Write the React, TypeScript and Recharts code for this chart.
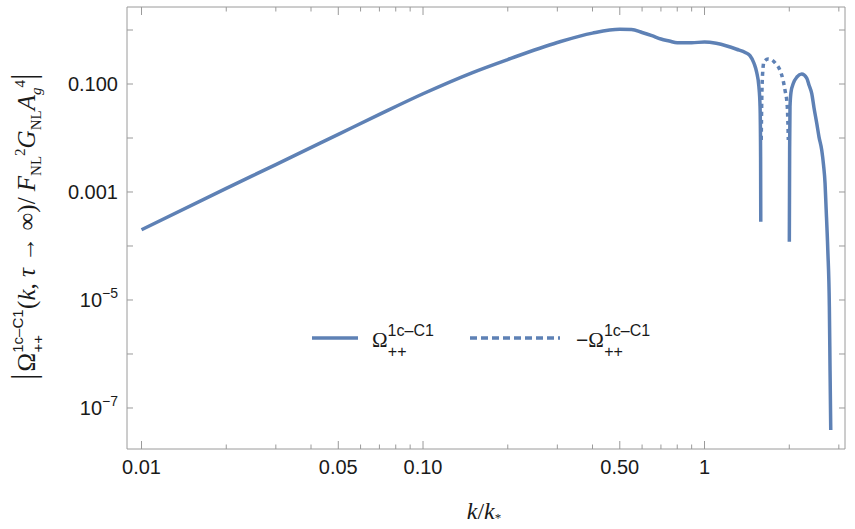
import { LineChart, Line, XAxis, YAxis, Legend } from 'recharts';

// k/k* values and |Omega| values
const solidK = [
  0.01, 0.02, 0.03, 0.05, 0.07, 0.1, 0.15, 0.2, 0.3, 0.4, 0.5, 0.55, 0.6, 0.65, 0.7, 0.75, 0.8, 0.9, 1.0,
  1.1, 1.2, 1.3, 1.4, 1.45, 1.5, 1.53, 1.56, 1.575, 1.582, 1.584,
  1.8,
  2.001, 2.006, 2.012, 2.029, 2.068, 2.131, 2.214, 2.307, 2.35, 2.403, 2.449, 2.504, 2.551, 2.608, 2.647,
  2.68, 2.7, 2.741, 2.776, 2.792, 2.808,
];
const solidV = [
  2.0e-4, 1.17e-3, 3.22e-3, 0.0117, 0.0274, 0.066, 0.163, 0.284, 0.587, 0.876, 1.03, 1.02, 0.9, 0.785, 0.68, 0.625, 0.58, 0.58, 0.6,
  0.567, 0.506, 0.44, 0.38, 0.335, 0.24, 0.169, 0.089, 0.038, 4.5e-3, 2.8e-4,
  null,
  1.2e-4, 6e-3, 0.038, 0.071, 0.103, 0.135, 0.153, 0.128, 0.096, 0.067, 0.036, 0.0187, 0.0104, 6.0e-3, 3.16e-3,
  1.45e-3, 5.8e-4, 8.4e-5, 7.5e-6, 5e-7, 3.9e-8,
];
const dottedK = [1.59, 1.597, 1.607, 1.627, 1.681, 1.733, 1.795, 1.854, 1.9, 1.931, 1.968, 1.985];
const dottedV = [9.2e-3, 0.0506, 0.147, 0.259, 0.29, 0.278, 0.234, 0.18, 0.119, 0.0774, 0.038, 9.2e-3];

const xMajor = [0.01, 0.05, 0.1, 0.5, 1];
const xMajorLabels = ['0.01', '0.05', '0.10', '0.50', '1'];
const xMinor = [0.02, 0.03, 0.04, 0.06, 0.07, 0.08, 0.09, 0.2, 0.3, 0.4, 0.6, 0.7, 0.8, 0.9, 2, 3];
const yTicks = [1e-7, 1e-6, 1e-5, 1e-4, 1e-3, 1e-2, 1e-1, 1];
const yLabelBase = ['10', '', '10', '', '0.001', '', '0.100', ''];
const yLabelExp = ['−7', '', '−5', '', '', '', '', ''];

const solidData = solidK.map((k, i) => ({ k, v: solidV[i] }));
const dottedData = dottedK.map((k, i) => ({ k, v: dottedV[i] }));
const xTicks = [...xMajor, ...xMinor].sort((a, b) => a - b);

const FRAME = '#9a9a9a';
const BLUE = '#5E81B5';
const TEXT = '#1a1a1a';
const SANS = '"Liberation Sans", Arial, sans-serif';
const SERIF = '"Liberation Serif", "Times New Roman", serif';

function BottomTick({ x, y, payload }: any) {
  const i = xMajor.indexOf(payload.value);
  return (
    <g>
      <line x1={x} x2={x} y1={y} y2={y - (i >= 0 ? 8 : 4.5)} stroke={FRAME} />
      {i >= 0 && (
        <text x={x} y={y + 25} textAnchor="middle" fontSize={20} fontFamily={SANS} fill={TEXT}>
          {xMajorLabels[i]}
        </text>
      )}
    </g>
  );
}

function TopTick({ x, y, payload }: any) {
  const i = xMajor.indexOf(payload.value);
  return <line x1={x} x2={x} y1={y} y2={y + (i >= 0 ? 8 : 4.5)} stroke={FRAME} />;
}

function LeftTick({ x, y, payload }: any) {
  const i = yTicks.indexOf(payload.value);
  return (
    <g>
      <line x1={x} x2={x + 6} y1={y} y2={y} stroke={FRAME} />
      {yLabelBase[i] && (
        <text x={x - 9} y={y + 7} textAnchor="end" fontSize={20} fontFamily={SANS} fill={TEXT}>
          {yLabelBase[i]}
          {yLabelExp[i] && (
            <tspan fontSize={14} dy={-9}>
              {yLabelExp[i]}
            </tspan>
          )}
        </text>
      )}
    </g>
  );
}

function RightTick({ x, y }: any) {
  return <line x1={x} x2={x - 6} y1={y} y2={y} stroke={FRAME} />;
}

function YTitle() {
  return (
    <text transform="translate(35,380) rotate(-90)" fontFamily={SERIF} fontSize={25} fill={TEXT}>
      <tspan fontSize={33}>|</tspan>
      <tspan dx={2}>Ω</tspan>
      <tspan fontFamily={SANS} fontSize={15} dy={-12}>1c–C1</tspan>
      <tspan fontFamily={SANS} fontSize={15} dx={-43} dy={20}>++</tspan>
      <tspan dx={26} dy={-8}>(</tspan>
      <tspan fontStyle="italic">k</tspan>
      <tspan>, </tspan>
      <tspan fontStyle="italic">τ</tspan>
      <tspan> → ∞)/ </tspan>
      <tspan fontStyle="italic">F</tspan>
      <tspan fontSize={15} dy={6}>NL</tspan>
      <tspan fontSize={15} dy={-16}>2</tspan>
      <tspan fontStyle="italic" dy={10}>G</tspan>
      <tspan fontSize={15} dy={6}>NL</tspan>
      <tspan fontStyle="italic" dy={-6}>A</tspan>
      <tspan fontSize={15} fontStyle="italic" dy={6}>g</tspan>
      <tspan fontSize={15} dy={-16}>4</tspan>
      <tspan fontSize={33} dy={10}>|</tspan>
    </text>
  );
}

function XTitle() {
  return (
    <text x={484} y={519} textAnchor="middle" fontFamily={SERIF} fontSize={24} fill={TEXT}>
      <tspan fontStyle="italic">k</tspan>/<tspan fontStyle="italic">k</tspan>
      <tspan fontSize={13} dy={3}>*</tspan>
    </text>
  );
}

function LegendBox() {
  return (
    <svg width={420} height={60}>
      <line x1={12} x2={58} y1={28} y2={28} stroke={BLUE} strokeWidth={3.5} />
      <text x={72} y={37} fontFamily={SERIF} fontSize={21} fill={TEXT}>
        Ω
        <tspan fontFamily={SANS} fontSize={16} dy={-11}>1c–C1</tspan>
        <tspan fontFamily={SANS} fontSize={16} dx={-46} dy={21}>++</tspan>
      </text>
      <line x1={170} x2={260} y1={28} y2={28} stroke={BLUE} strokeWidth={3.5} strokeDasharray="7 4" />
      <text x={276} y={37} fontFamily={SERIF} fontSize={21} fill={TEXT}>
        <tspan fontFamily={SANS}>−</tspan>Ω
        <tspan fontFamily={SANS} fontSize={16} dy={-11}>1c–C1</tspan>
        <tspan fontFamily={SANS} fontSize={16} dx={-46} dy={21}>++</tspan>
      </text>
    </svg>
  );
}

export default function App() {
  return (
    <div style={{ position: 'absolute', left: 0, top: 0, background: '#fff' }}>
      <LineChart width={855} height={529} margin={{ top: 0, right: 0, bottom: 0, left: 67 }}>
        <XAxis
          xAxisId="b"
          dataKey="k"
          type="number"
          scale="log"
          domain={[0.00888, 3.155]}
          allowDataOverflow
          ticks={xTicks}
          interval={0}
          height={80}
          tickSize={0}
          tickMargin={0}
          tickLine={false}
          axisLine={{ stroke: FRAME }}
          tick={<BottomTick />}
          label={<XTitle />}
        />
        <XAxis
          xAxisId="t"
          orientation="top"
          dataKey="k"
          type="number"
          scale="log"
          domain={[0.00888, 3.155]}
          allowDataOverflow
          ticks={xTicks}
          interval={0}
          height={7}
          tickSize={0}
          tickMargin={0}
          tickLine={false}
          axisLine={{ stroke: FRAME }}
          tick={<TopTick />}
        />
        <YAxis
          yAxisId="l"
          type="number"
          scale="log"
          domain={[1.74e-8, 2.667]}
          allowDataOverflow
          ticks={yTicks}
          interval={0}
          width={60}
          tickSize={0}
          tickMargin={0}
          tickLine={false}
          axisLine={{ stroke: FRAME }}
          tick={<LeftTick />}
          label={<YTitle />}
        />
        <YAxis
          yAxisId="r"
          orientation="right"
          type="number"
          scale="log"
          domain={[1.74e-8, 2.667]}
          allowDataOverflow
          ticks={yTicks}
          interval={0}
          width={10}
          tickSize={0}
          tickMargin={0}
          tickLine={false}
          axisLine={{ stroke: FRAME }}
          tick={<RightTick />}
        />
        <Legend
          layout="horizontal"
          verticalAlign="middle"
          align="center"
          wrapperStyle={{ left: 300, top: 310, width: 420 }}
          content={<LegendBox />}
        />
        <Line
          data={solidData}
          dataKey="v"
          xAxisId="b"
          yAxisId="l"
          type="monotone"
          stroke={BLUE}
          strokeWidth={3.5}
          dot={false}
          isAnimationActive={false}
        />
        <Line
          data={dottedData}
          dataKey="v"
          xAxisId="b"
          yAxisId="l"
          type="monotone"
          stroke={BLUE}
          strokeWidth={3.5}
          strokeDasharray="4 4"
          dot={false}
          isAnimationActive={false}
        />
      </LineChart>
    </div>
  );
}
